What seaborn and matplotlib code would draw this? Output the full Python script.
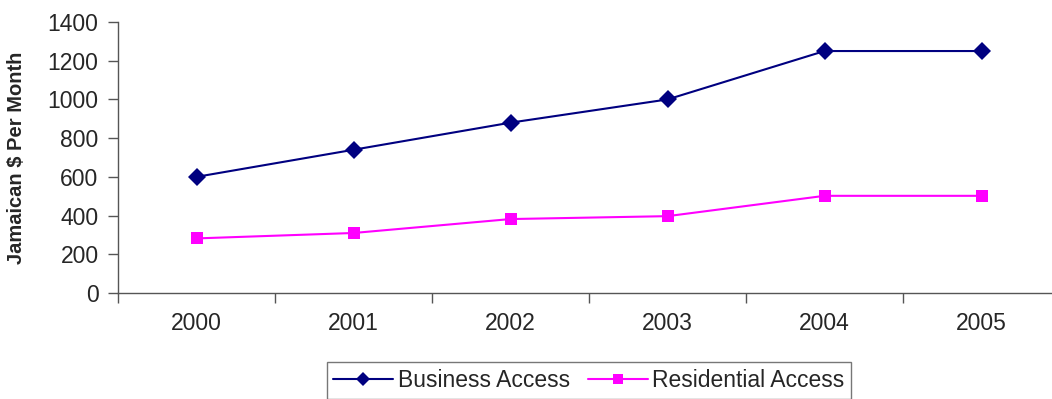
import numpy as np
import pandas as pd
import matplotlib
matplotlib.use("Agg")
import matplotlib.pyplot as plt
import seaborn as sns

# data
years = ['2000', '2001', '2002', '2003', '2004', '2005']
business = [600, 740, 880, 1000, 1250, 1250]
residential = [282, 310, 382, 397, 502, 502]
series_names = ['Business Access', 'Residential Access']

df = pd.DataFrame({
    'year': years * 2,
    'value': business + residential,
    'series': [series_names[0]] * len(years) + [series_names[1]] * len(years),
})

sns.set_style('ticks')
plt.rcParams['font.family'] = ['Liberation Sans', 'DejaVu Sans']

fig = plt.figure(figsize=(10.52, 3.99), dpi=100)
ax = fig.add_axes([118 / 1052, 1 - 293 / 399, 942 / 1052, 271 / 399])

palette = {series_names[0]: '#000080', series_names[1]: '#FF00FF'}
sns.lineplot(data=df, x='year', y='value', hue='series', style='series',
             palette=palette, markers={series_names[0]: 'D', series_names[1]: 's'},
             dashes=False, markersize=8, linewidth=1.5, markeredgewidth=0,
             ax=ax, legend=True, sort=False)
# diamonds a touch bigger than squares
for ln in ax.lines:
    if ln.get_marker() == 'D':
        ln.set_markersize(9)

# axes look
ax.set_xlim(-0.5, 5.5)
ax.set_ylim(0, 1400)
ax.set_yticks(np.arange(0, 1401, 200))
ax.set_xticks(np.arange(-0.5, 6, 1), minor=True)
ax.tick_params(axis='x', which='major', length=0, pad=14, labelsize=16.5)
ax.tick_params(axis='x', which='minor', length=7, width=1, color='#555555')
ax.tick_params(axis='y', length=7, width=1, color='#555555', pad=7, labelsize=16.5)
for s in ['top', 'right']:
    ax.spines[s].set_visible(False)
for s in ['left', 'bottom']:
    ax.spines[s].set_color('#555555')
    ax.spines[s].set_linewidth(1)

ax.set_xlabel('')
ax.set_ylabel('Jamaican $ Per Month', fontsize=14.5, fontweight='bold')
ax.yaxis.set_label_coords(-0.098, 0.5)

leg = ax.legend(loc='upper center', bbox_to_anchor=(0.5, -0.2546), ncol=2,
                frameon=True, fancybox=False, fontsize=16.5, handlelength=2.6,
                handletextpad=0.2, columnspacing=0.8, borderpad=0.3,
                borderaxespad=0)
leg.get_frame().set_edgecolor('#555555')
leg.get_frame().set_linewidth(1)
for h in leg.legend_handles:
    h.set_markersize(7)

fig.savefig('out.png', dpi=100)
